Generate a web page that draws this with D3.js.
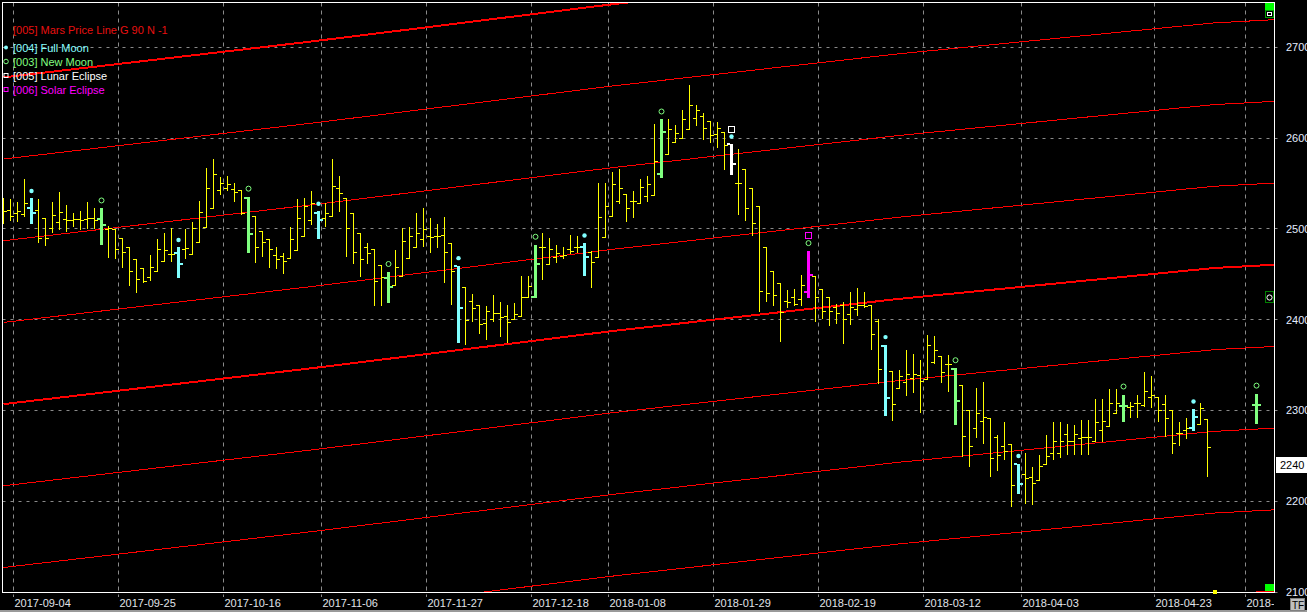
<!DOCTYPE html>
<html>
<head>
<meta charset="utf-8">
<script src="https://cdn.jsdelivr.net/npm/d3@7"></script>
<style>
  html, body { margin: 0; padding: 0; background: #000; overflow: hidden; }
  svg { display: block; }
  text { font-family: Arial, "Liberation Sans", sans-serif; font-size: 11px; }
</style>
</head>
<body>
<svg id="chart" width="1307" height="612"></svg>
<script>
// daily OHLC, one entry per bar (index = bar number), null = no bar yet
const opens = [2512,2520,2517,2516,2522,2520,2512,2501,2507,2510,
  2509,2510,2510,2511,2510,2499,2499,2489,2480,2466,
  2456,2447,2453,2464,2472,2473,2477,2472,2485,2502,
  2523,2542,2544,2543,2542,2534,2514,2497,2488,2471,
  2470,2467,2476,2492,2509,2517,2512,2514,2545,2533,
  2517,2495,2480,2477,2460,2445,2438,2448,2467,2479,
  2488,2492,2492,2493,2484,2459,2435,2420,2416,2396,
  2400,2407,2404,2400,2404,2425,2425,2479,2461,2468,
  2470,2477,2480,2480,2474,2469,2491,2514,2530,2538,
  2530,2528,2536,2537,2560,2582,2595,2600,2609,2622,
  2624,2618,2604,2606,2593,2550,2566,2544,2525,2479,
  2453,2440,2420,2424,2422,2430,2448,2433,2424,2413,
  2416,2406,2411,2416,2416,2398,2371,2343,2324,2331,
  2335,2338,2334,2353,2360,2351,2345,2327,2300,2280,
  2288,2291,2270,2260,2263,2240,2229,2226,2223,2241,
  2253,2253,2273,2266,2269,2270,2266,2278,2282,2297,
  2304,2303,2308,2306,2314,2314,2307,2300,2275,2278,
  2280,2285,2290,null,null,null,null,null,null,2305];
const highs = [2534,2532,2529,2554,2533,2532,2512,2529,2540,2526,
  2517,2519,2529,2523,2522,2503,2499,2490,2480,2466,
  2456,2471,2488,2495,2501,2479,2499,2507,2530,2567,
  2576,2557,2558,2550,2542,2535,2514,2497,2488,2479,
  2473,2502,2532,2533,2541,2519,2528,2576,2558,2534,
  2517,2495,2484,2477,2460,2452,2476,2501,2502,2517,
  2522,2511,2505,2513,2484,2459,2435,2428,2416,2414,
  2427,2419,2416,2418,2448,2448,2482,2495,2489,2482,
  2480,2493,2492,2484,2475,2550,2550,2562,2565,2538,
  2541,2555,2558,2615,2620,2621,2614,2631,2658,2636,
  2627,2618,2617,2606,2593,2587,2566,2544,2525,2479,
  2453,2440,2432,2433,2449,2475,2448,2433,2424,2417,
  2419,2430,2434,2430,2416,2400,2372,2343,2344,2366,
  2362,2355,2383,2382,2360,2361,2346,2327,2300,2324,
  2331,2291,2272,2287,2263,2241,2253,2237,2250,2272,
  2287,2287,2284,2283,2289,2289,2312,2312,2323,2323,
  2317,2309,2317,2342,2337,2314,2317,2300,2287,2291,
  2301,2308,2290,null,null,null,null,null,null,2318];
const lows = [2506,2509,2508,2514,2506,2485,2482,2496,2499,2497,
  2503,2499,2500,2500,2483,2468,2467,2457,2438,2430,
  2441,2443,2453,2464,2464,2446,2467,2472,2485,2502,
  2523,2538,2542,2530,2516,2474,2463,2470,2458,2456,
  2451,2467,2476,2492,2505,2490,2503,2514,2519,2470,
  2462,2448,2462,2416,2416,2419,2438,2448,2467,2479,
  2481,2474,2480,2441,2417,2375,2373,2398,2385,2378,
  2398,2382,2375,2400,2404,2425,2424,2444,2461,2463,
  2467,2473,2474,2449,2436,2469,2491,2514,2528,2508,
  2513,2528,2530,2537,2557,2582,2595,2600,2609,2614,
  2598,2595,2590,2566,2560,2516,2509,2493,2409,2420,
  2416,2376,2413,2416,2416,2425,2398,2401,2394,2396,
  2374,2395,2405,2413,2367,2330,2295,2289,2324,2316,
  2320,2298,2334,2352,2331,2321,2284,2249,2238,2270,
  2264,2227,2234,2246,2194,2209,2198,2196,2223,2241,
  2246,2248,2251,2251,2251,2251,2266,2266,2282,2297,
  2288,2292,2292,2304,2303,2288,2271,2253,2261,2269,
  2278,2285,2227,null,null,null,null,null,null,2286];
const closes = [2519,2514,2519,2528,2517,2490,2490,2515,2518,2509,
  2510,2509,2512,2509,2504,2501,2477,2474,2453,2444,
  2442,2458,2477,2476,2472,2461,2478,2500,2518,2544,
  2560,2550,2549,2540,2517,2494,2479,2485,2477,2466,
  2464,2488,2511,2525,2528,2509,2517,2547,2539,2500,
  2474,2466,2473,2442,2446,2435,2457,2486,2492,2495,
  2499,2491,2492,2474,2453,2412,2399,2412,2395,2409,
  2407,2402,2397,2406,2425,2437,2461,2479,2477,2473,
  2471,2475,2479,2468,2463,2513,2525,2549,2545,2523,
  2530,2546,2549,2574,2606,2610,2605,2621,2636,2630,
  2611,2603,2611,2592,2571,2550,2522,2506,2431,2429,
  2427,2408,2419,2417,2438,2449,2424,2409,2409,2407,
  2400,2413,2416,2414,2384,2345,2313,2307,2337,2340,
  2340,2332,2372,2366,2342,2351,2310,2271,2260,2297,
  2292,2247,2250,2255,2217,2218,2225,2220,2238,2249,
  2266,2266,2266,2273,2270,2270,2287,2288,2308,2308,
  2304,2304,2308,2321,2317,2300,2291,2264,2275,2280,
  2292,2302,2259,null,null,null,null,null,null,2305];

// moon / eclipse events (bar numbers)
const fullMoon = [4, 25, 45, 65, 83, 104, 126, 145, 170];
const newMoon = [14, 35, 55, 76, 94, 115, 136, 160, 179];
const lunarEclipse = [104];
const solarEclipse = [115];

// Mars price line, base harmonic read at a few bars, and the G 90 levels
const marsBar = [0, 44, 54, 87, 128, 173, 181.5];
const marsPrice = [2307, 2346.5, 2356, 2387.5, 2423, 2457, 2460.5];
const marsOffsets = [-360, -270, -180, -90, 0, 90, 180, 270, 360];

// axes
const priceTicks = [2100, 2200, 2300, 2400, 2500, 2600, 2700];
const dateTickBars = [1, 16, 31, 45, 60, 75, 86, 101, 116, 131, 145, 164, 177];
const dateTickLabels = ['2017-09-04', '2017-09-25', '2017-10-16', '2017-11-06', '2017-11-27',
  '2017-12-18', '2018-01-08', '2018-01-29', '2018-02-19', '2018-03-12', '2018-04-03',
  '2018-04-23', '2018-05-14'];
const lastPrice = 2240;

const legendItems = [
  { label: '[005] Mars Price Line G 90 N -1', color: '#e81010', mark: null },
  { label: '[004] Full Moon', color: '#88ffff', mark: 'dot' },
  { label: '[003] New Moon', color: '#80ff80', mark: 'circle' },
  { label: '[005] Lunar Eclipse', color: '#ffffff', mark: 'square' },
  { label: '[006] Solar Eclipse', color: '#ff00ff', mark: 'square' }
];

const svg = d3.select('#chart');
const frameL = 2.5, frameR = 1274.5, frameT = 2.5, frameB = 592.5;

const x = d3.scaleLinear().domain([0, 181.5]).range([3.5, 3.5 + 7 * 181.5]);
const y = d3.scaleLinear().domain([2100, 2750]).range([592, 2]);
const py = v => Math.floor(y(v)) + 0.5;

svg.append('rect').attr('width', 1307).attr('height', 612).attr('fill', '#000');

const defs = svg.append('defs');
defs.append('clipPath').attr('id', 'plot')
  .append('rect').attr('x', 3).attr('y', 3).attr('width', 1271).attr('height', 589);
defs.append('clipPath').attr('id', 'xlab')
  .append('rect').attr('x', 0).attr('y', 593).attr('width', 1274).attr('height', 19);

// grid
const grid = svg.append('g').attr('stroke', '#8a8a8a').attr('stroke-width', 1);
grid.selectAll('line.h').data(priceTicks).enter().append('line')
  .attr('x1', frameL).attr('x2', 1282)
  .attr('y1', d => py(d)).attr('y2', d => py(d))
  .attr('stroke-dasharray', '3,5');
grid.selectAll('line.v').data(dateTickBars).enter().append('line')
  .attr('x1', d => x(d) + 3).attr('x2', d => x(d) + 3)
  .attr('y1', frameT).attr('y2', 597)
  .attr('stroke-dasharray', '4,4');

// mars price lines
const plot = svg.append('g').attr('clip-path', 'url(#plot)');
const marsKnots = marsBar.map((b, i) => [b, marsPrice[i]]);
marsOffsets.forEach(off => {
  const line = d3.line().x(d => x(d[0])).y(d => y(d[1] + off));
  plot.append('path')
    .attr('d', line(marsKnots))
    .attr('fill', 'none')
    .attr('stroke', '#ff0000')
    .attr('stroke-width', off % 360 === 0 ? 2 : 1)
    .attr('shape-rendering', 'crispEdges');
});

// bars
const bars = highs.map((h, i) => ({ i, o: opens[i], h, l: lows[i], c: closes[i] })).filter(d => d.h != null);
const eventColor = i => {
  if (lunarEclipse.includes(i)) return '#ffffff';
  if (solarEclipse.includes(i)) return '#ff00ff';
  if (fullMoon.includes(i)) return '#80ffff';
  if (newMoon.includes(i)) return '#80ff80';
  return null;
};

plot.append('g').selectAll('path')
  .data(bars.filter(d => !eventColor(d.i)))
  .enter().append('path')
  .attr('d', d => {
    const bx = x(d.i);
    return `M${bx},${py(d.h) - 0.5}V${py(d.l) + 0.5}M${bx - 3.5},${py(d.o)}H${bx}M${bx},${py(d.c)}H${bx + 3.5}`;
  })
  .attr('stroke', '#ffff00')
  .attr('fill', 'none')
  .attr('shape-rendering', 'crispEdges');

const hot = plot.append('g').selectAll('g')
  .data(bars.filter(d => eventColor(d.i)))
  .enter().append('g')
  .attr('fill', d => eventColor(d.i))
  .attr('shape-rendering', 'crispEdges');
hot.append('rect')
  .attr('x', d => x(d.i) - 1.5).attr('width', 3)
  .attr('y', d => Math.floor(y(d.h))).attr('height', d => Math.floor(y(d.l)) - Math.floor(y(d.h)) + 1);
hot.append('rect')
  .attr('x', d => x(d.i) - 4.5).attr('width', 3)
  .attr('y', d => Math.floor(y(d.o)) - 1).attr('height', 2);
hot.append('rect')
  .attr('x', d => x(d.i) + 1.5).attr('width', 3)
  .attr('y', d => Math.floor(y(d.c)) - 1).attr('height', 2);

// event markers above the bars
const byBar = new Map(bars.map(d => [d.i, d]));
const marks = plot.append('g');
fullMoon.forEach(i => {
  const d = byBar.get(i);
  marks.append('circle').attr('cx', x(i)).attr('cy', y(d.h) - 8).attr('r', 2.2).attr('fill', '#80ffff');
});
newMoon.forEach(i => {
  const d = byBar.get(i);
  marks.append('circle').attr('cx', x(i)).attr('cy', y(d.h) - 8.5).attr('r', 2.5)
    .attr('fill', 'none').attr('stroke', '#80ff80');
});
lunarEclipse.forEach(i => {
  const d = byBar.get(i);
  marks.append('rect').attr('x', x(i) - 3).attr('y', Math.floor(y(d.h)) - 17.5).attr('width', 6).attr('height', 6)
    .attr('fill', 'none').attr('stroke', '#ffffff');
});
solarEclipse.forEach(i => {
  const d = byBar.get(i);
  marks.append('rect').attr('x', x(i) - 3).attr('y', Math.floor(y(d.h)) - 18.5).attr('width', 6).attr('height', 6)
    .attr('fill', 'none').attr('stroke', '#ff00ff');
});

// frame
svg.append('rect')
  .attr('x', frameL).attr('y', frameT).attr('width', frameR - frameL).attr('height', frameB - frameT)
  .attr('fill', 'none').attr('stroke', '#ffffff');

// price labels
svg.append('g').selectAll('text').data(priceTicks).enter().append('text')
  .attr('x', 1286).attr('y', d => y(d) + 4)
  .attr('fill', '#e4ecff')
  .text(d => d);

// date labels
svg.append('g').attr('clip-path', 'url(#xlab)').selectAll('text')
  .data(dateTickBars).enter().append('text')
  .attr('x', d => x(d) + 4).attr('y', 607)
  .attr('fill', '#e0e4ea')
  .text((d, i) => dateTickLabels[i]);

// last price box
svg.append('rect').attr('x', 1276).attr('y', 457).attr('width', 31).attr('height', 16).attr('fill', '#fff');
svg.append('text').attr('x', 1280).attr('y', y(lastPrice) + 4).attr('fill', '#000').text(lastPrice);

// legend
const legend = svg.append('g');
legendItems.forEach((it, k) => {
  const ly = k === 0 ? 29.5 : 47.5 + (k - 1) * 14;
  legend.append('text').attr('x', 13).attr('y', ly + 4).attr('fill', it.color).text(it.label);
  if (it.mark === 'dot') legend.append('circle').attr('cx', 6).attr('cy', ly).attr('r', 2).attr('fill', it.color);
  if (it.mark === 'circle') legend.append('circle').attr('cx', 6).attr('cy', ly).attr('r', 2.3).attr('fill', 'none').attr('stroke', it.color);
  if (it.mark === 'square') legend.append('rect').attr('x', 4).attr('y', ly - 2).attr('width', 4).attr('height', 4).attr('fill', 'none').attr('stroke', it.color);
});

// small window widgets on the right edge
svg.append('rect').attr('x', 1265).attr('y', 3).attr('width', 9).attr('height', 7).attr('fill', '#00ff00');
svg.append('rect').attr('x', 1265.5).attr('y', 10.5).attr('width', 8).attr('height', 7).attr('fill', '#000').attr('stroke', '#00a000');
svg.append('rect').attr('x', 1267.5).attr('y', 12.5).attr('width', 4).attr('height', 3).attr('fill', 'none').attr('stroke', '#fff');
svg.append('rect').attr('x', 1265.5).attr('y', 291.5).attr('width', 8).attr('height', 11).attr('fill', '#000').attr('stroke', '#008000');
svg.append('circle').attr('cx', 1269.5).attr('cy', 297.5).attr('r', 2.6).attr('fill', 'none').attr('stroke', '#fff');
svg.append('rect').attr('x', 1265).attr('y', 584).attr('width', 9).attr('height', 7).attr('fill', '#00ff00');
svg.append('rect').attr('x', x(173) - 1.5).attr('y', 590).attr('width', 4).attr('height', 4).attr('fill', '#ffff00');

// bottom strip and TF button
svg.append('rect').attr('x', 0).attr('y', 610).attr('width', 1307).attr('height', 2).attr('fill', '#9a9a9a');
svg.append('rect').attr('x', 1290.5).attr('y', 598.5).attr('width', 14).attr('height', 12).attr('fill', '#c0c0c0').attr('stroke', '#808080');
svg.append('text').attr('x', 1292).attr('y', 608.5).attr('fill', '#000').style('font-size', '10px').text('TF');
</script>
</body>
</html>
